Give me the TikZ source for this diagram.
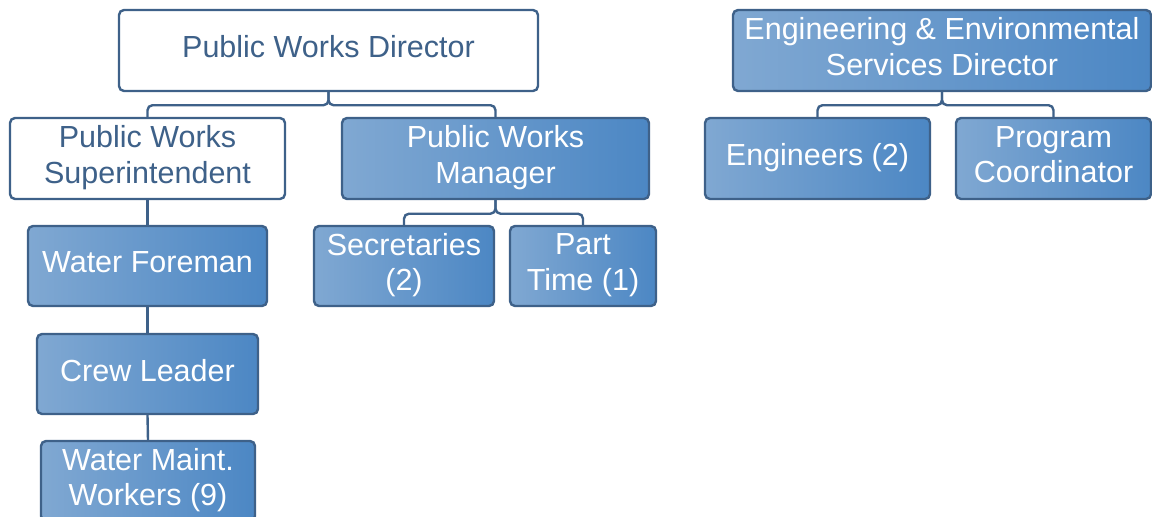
\documentclass[tikz,border=0pt]{standalone}
\usepackage{fontspec}
\setmainfont{Liberation Sans}
\definecolor{linec}{HTML}{3E6189}
\definecolor{fillL}{HTML}{80A8D2}
\definecolor{fillR}{HTML}{4C87C4}
\begin{document}
\begin{tikzpicture}[x=1pt,y=-1pt,
  box/.style={rounded corners=5pt, draw=linec, line width=2.4pt, inner sep=0pt,
    align=center, text depth=8pt, font=\fontsize{30.5}{35.5}\selectfont},
  whitebox/.style={box, fill=white, text=linec},
  bluebox/.style={box, left color=fillL, right color=fillR, text=white},
  conn/.style={draw=linec, line width=2.4pt, rounded corners=5pt}]
\useasboundingbox (0,0) rectangle (1152,517);
\clip (0,0) rectangle (1152,517);

% Public Works branch
\node[whitebox, minimum width=419pt, minimum height=81pt] (pwd) at (328.5,50.5) {Public Works Director};
\node[whitebox, minimum width=275pt, minimum height=81pt] (pws) at (147.5,158.5) {Public Works\\Superintendent};
\node[bluebox, minimum width=307pt, minimum height=81pt] (pwm) at (495.5,158.5) {Public Works\\Manager};
\node[bluebox, minimum width=239pt, minimum height=80pt] (wf) at (147.5,266) {Water Foreman};
\node[bluebox, minimum width=221pt, minimum height=80pt] (cl) at (147.5,374) {Crew Leader};
\node[bluebox, minimum width=214pt, minimum height=80pt] (wm) at (148,481) {Water Maint.\\Workers (9)};
\node[bluebox, minimum width=180pt, minimum height=80pt] (sec) at (404,266) {Secretaries\\(2)};
\node[bluebox, minimum width=146pt, minimum height=80pt] (pt) at (583,266) {Part\\Time (1)};

% Engineering branch
\node[bluebox, minimum width=418pt, minimum height=81pt] (ees) at (942,50.5) {Engineering \& Environmental\\Services Director};
\node[bluebox, minimum width=225pt, minimum height=81pt] (eng) at (817.5,158.5) {Engineers (2)};
\node[bluebox, minimum width=195pt, minimum height=81pt] (prog) at (1053.5,158.5) {Program\\Coordinator};

% Connectors
\draw[conn] (pws.north) |- ([yshift=-13pt]pwd.south) -- (pwd.south);
\draw[conn] (pwm.north) |- ([yshift=-13pt]pwd.south) -- (pwd.south);
\draw[conn] (sec.north) |- ([yshift=-13.5pt]pwm.south) -- (pwm.south);
\draw[conn] (pt.north) |- ([yshift=-13.5pt]pwm.south) -- (pwm.south);
\draw[conn] (eng.north) |- ([yshift=-13pt]ees.south) -- (ees.south);
\draw[conn] (prog.north) |- ([yshift=-13pt]ees.south) -- (ees.south);
\draw[conn] (pws.south) -- (wf.north);
\draw[conn] (wf.south) -- (cl.north);
\draw[conn] (cl.south) -- (wm.north);
\end{tikzpicture}
\end{document}
